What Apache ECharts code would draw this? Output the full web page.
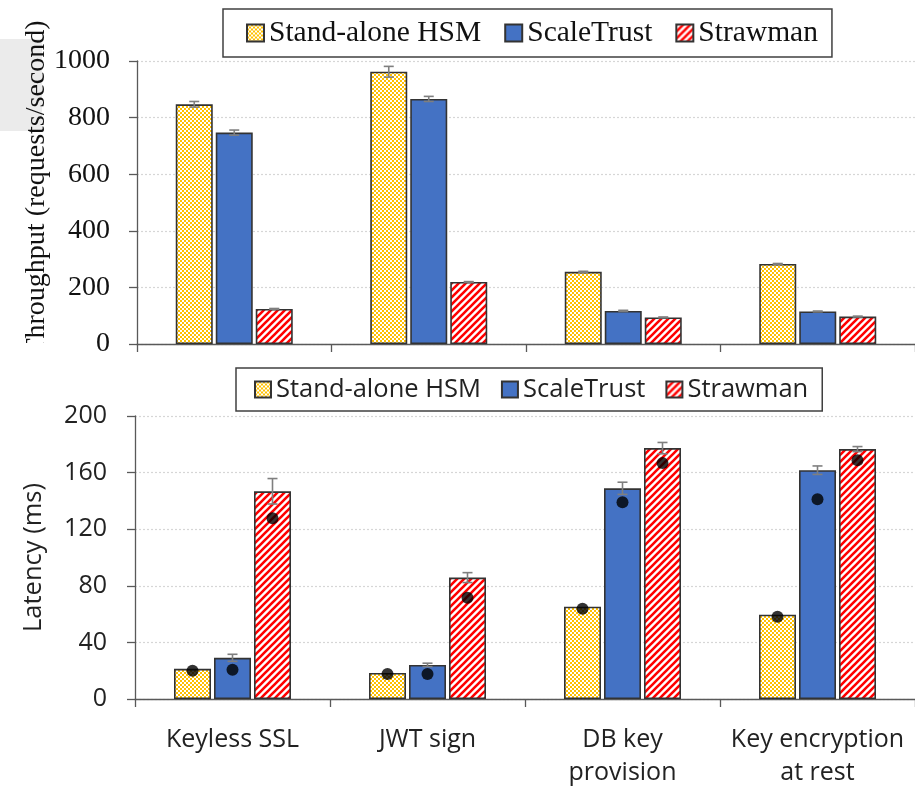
<!DOCTYPE html>
<html>
<head>
<meta charset="utf-8">
<script src="https://cdn.jsdelivr.net/npm/echarts@6/dist/echarts.min.js"></script>
<style>
  html, body { margin: 0; padding: 0; background: #fff; }
  #chart { width: 915px; height: 789px; }
</style>
</head>
<body>
<div id="chart"></div>
<script>
// Workloads on the x axis (shared by both panels)
const categories = ['Keyless SSL', 'JWT sign', 'DB key\nprovision', 'Key encryption\nat rest'];
const seriesNames = ['Stand-alone HSM', 'ScaleTrust', 'Strawman'];

// Throughput (requests/second) and error half-widths
const throughputHSM = [847, 962, 255, 283];
const throughputScaleTrust = [747, 866, 117, 115];
const throughputStrawman = [124, 219, 94, 97];
const throughputErrHSM = [10, 19, 2, 1.5];
const throughputErrScaleTrust = [9, 9, 2, 1.5];
const throughputErrStrawman = [1.5, 1.5, 1.5, 1.5];

// Latency (ms): bar = mean, error half-width, dot = median
const latencyHSM = [21.3, 18.4, 65.2, 59.6];
const latencyScaleTrust = [29.1, 24.1, 148.9, 161.7];
const latencyStrawman = [146.8, 85.8, 177.3, 176.6];
const latencyErrHSM = [0, 0, 0, 0];
const latencyErrScaleTrust = [2.5, 1.2, 4.3, 3];
const latencyErrStrawman = [9, 3.5, 4, 1.8];
const latencyMedianHSM = [19.9, 17.7, 63.8, 58.2];
const latencyMedianScaleTrust = [20.6, 17.7, 139, 141.1];
const latencyMedianStrawman = [127.7, 71.6, 166.7, 168.8];

// Axis ranges
const throughputTicks = [0, 200, 400, 600, 800, 1000];
const latencyTicks = [0, 40, 80, 120, 160, 200];

const BAR_W = 37;
const BAR_GAP = 3;
const AXIS_COLOR = '#595959';
const SERIF = '"Liberation Serif", "Times New Roman", serif';
const SANS = '"Open Sans", "Noto Sans", sans-serif';

// Light yellow lattice fill
function yellowLattice() {
  const c = document.createElement('canvas');
  c.width = 4; c.height = 4;
  const g = c.getContext('2d');
  g.fillStyle = '#ffffff';
  g.fillRect(0, 0, 4, 4);
  g.fillStyle = '#ffc000';
  g.fillRect(0, 0, 2, 2);
  g.fillRect(2, 2, 2, 2);
  return c;
}
// Red "/" diagonal stripes on white
function redStripes() {
  const s = 7;
  const c = document.createElement('canvas');
  c.width = s; c.height = s;
  const g = c.getContext('2d');
  g.fillStyle = '#ffffff';
  g.fillRect(0, 0, s, s);
  g.strokeStyle = '#ff0000';
  g.lineWidth = 2.6;
  g.beginPath();
  g.moveTo(-1, s + 1); g.lineTo(s + 1, -1);
  g.moveTo(-s - 1, 1); g.lineTo(1, -s - 1);
  g.moveTo(-1, 2 * s + 1); g.lineTo(2 * s + 1, -1);
  g.moveTo(-s - 1, s + 1); g.lineTo(s + 1, -s - 1);
  g.stroke();
  return c;
}

const fills = [
  { image: yellowLattice(), repeat: 'repeat' },
  '#4472c4',
  { image: redStripes(), repeat: 'repeat' }
];

const throughputData = [throughputHSM, throughputScaleTrust, throughputStrawman];
const throughputErr = [throughputErrHSM, throughputErrScaleTrust, throughputErrStrawman];
const latencyData = [latencyHSM, latencyScaleTrust, latencyStrawman];
const latencyErr = [latencyErrHSM, latencyErrScaleTrust, latencyErrStrawman];
const latencyMedian = [latencyMedianHSM, latencyMedianScaleTrust, latencyMedianStrawman];

function barOffset(k) { return (k - 1) * (BAR_W + BAR_GAP); }

function errorSeries(values, errs, k, axisIdx) {
  return {
    type: 'custom',
    name: 'err-' + axisIdx + '-' + k,
    xAxisIndex: axisIdx,
    yAxisIndex: axisIdx,
    z: 5,
    silent: true,
    data: values.map((v, i) => [i, v, errs[i]]),
    renderItem: function (params, api) {
      const i = api.value(0), v = api.value(1), e = api.value(2);
      if (!e) return null;
      const off = barOffset(k);
      const hi = api.coord([i, v + e]);
      const lo = api.coord([i, v - e]);
      const x = hi[0] + off;
      const cap = 5;
      const style = { stroke: '#7f7f7f', lineWidth: 1.6 };
      return {
        type: 'group',
        children: [
          { type: 'line', shape: { x1: x, y1: hi[1], x2: x, y2: lo[1] }, style },
          { type: 'line', shape: { x1: x - cap, y1: hi[1], x2: x + cap, y2: hi[1] }, style },
          { type: 'line', shape: { x1: x - cap, y1: lo[1], x2: x + cap, y2: lo[1] }, style }
        ]
      };
    }
  };
}

const series = [];
[0, 1].forEach(function (axisIdx) {
  const data = axisIdx === 0 ? throughputData : latencyData;
  seriesNames.forEach(function (name, k) {
    series.push({
      type: 'bar',
      name: name,
      xAxisIndex: axisIdx,
      yAxisIndex: axisIdx,
      barWidth: BAR_W,
      barGap: (BAR_GAP / BAR_W * 100) + '%',
      data: data[k],
      itemStyle: { color: fills[k], borderColor: '#333333', borderWidth: 1.6 },
      emphasis: { disabled: true }
    });
  });
});
seriesNames.forEach(function (name, k) {
  series.push(errorSeries(throughputData[k], throughputErr[k], k, 0));
  series.push(errorSeries(latencyData[k], latencyErr[k], k, 1));
  series.push({
    type: 'scatter',
    name: 'median-' + k,
    xAxisIndex: 1,
    yAxisIndex: 1,
    z: 6,
    symbol: 'circle',
    symbolSize: 12,
    symbolOffset: [barOffset(k), 0],
    itemStyle: { color: '#000000' },
    data: latencyMedian[k].map((v, i) => [i, v]),
    silent: true
  });
});

const gridLine = { show: true, lineStyle: { color: '#d6d6d6', type: [2, 2], width: 1.2 } };

function valueAxis(gridIndex, ticks, labelFont) {
  return {
    type: 'value',
    gridIndex: gridIndex,
    min: ticks[0],
    max: ticks[ticks.length - 1],
    interval: ticks[1] - ticks[0],
    axisLine: { show: true, lineStyle: { color: AXIS_COLOR, width: 1.3 } },
    axisTick: { show: true, length: 8, lineStyle: { color: AXIS_COLOR, width: 1.3 } },
    axisLabel: Object.assign({ formatter: function (v) { return String(v); } }, labelFont),
    splitLine: gridLine
  };
}

const chart = echarts.init(document.getElementById('chart'), null, { renderer: 'canvas' });
chart.setOption({
  animation: false,
  backgroundColor: '#ffffff',
  grid: [
    { left: 137, top: 61, width: 780, height: 283 },
    { left: 135, top: 416, width: 782, height: 283 }
  ],
  legend: [
    {
      data: seriesNames,
      left: 223, top: 9,
      icon: 'rect',
      itemWidth: 17, itemHeight: 17, itemGap: 23,
      padding: [9, 14, 9, 23],
      borderColor: '#404040', borderWidth: 1.5,
      textStyle: { fontFamily: SERIF, fontSize: 29.5, color: '#111', lineHeight: 30 },
      selectedMode: false
    },
    {
      data: seriesNames,
      left: 236, top: 368,
      icon: 'rect',
      itemWidth: 16, itemHeight: 16, itemGap: 20,
      padding: [8, 14, 8, 18],
      borderColor: '#404040', borderWidth: 1.5,
      textStyle: { fontFamily: SANS, fontSize: 25.5, color: '#222', lineHeight: 27 },
      selectedMode: false
    }
  ],
  xAxis: [
    {
      type: 'category', gridIndex: 0, data: categories,
      axisLine: { lineStyle: { color: AXIS_COLOR, width: 1.3 } },
      axisTick: { show: true, length: 8, interval: 0, lineStyle: { color: AXIS_COLOR, width: 1.3 } },
      axisLabel: { show: false }
    },
    {
      type: 'category', gridIndex: 1, data: categories,
      axisLine: { lineStyle: { color: AXIS_COLOR, width: 1.3 } },
      axisTick: { show: true, length: 8, interval: 0, lineStyle: { color: AXIS_COLOR, width: 1.3 } },
      axisLabel: { interval: 0, fontFamily: SANS, fontSize: 25, lineHeight: 33, color: '#222', margin: 24 }
    }
  ],
  yAxis: [
    valueAxis(0, throughputTicks, { fontFamily: SERIF, fontSize: 28, color: '#111', margin: 27 }),
    Object.assign(valueAxis(1, latencyTicks, { fontFamily: SANS, fontSize: 25, color: '#222', margin: 28 }), {
      name: 'Latency (ms)',
      nameLocation: 'middle',
      nameRotate: 90,
      nameGap: 88,
      nameTextStyle: { fontFamily: SANS, fontSize: 25.5, color: '#222' }
    })
  ],
  graphic: [
    { type: 'rect', z: -10, shape: { x: 0, y: 39, width: 42, height: 92 }, style: { fill: '#ebebeb' } },
    {
      type: 'text', z: 10, x: 37, y: 188, rotation: Math.PI / 2,
      style: {
        text: 'Throughput (requests/second)',
        font: '28px ' + SERIF,
        fill: '#111',
        textAlign: 'center',
        textVerticalAlign: 'middle'
      }
    },
    { type: 'rect', z: 20, shape: { x: 0, y: 343, width: 70, height: 22 }, style: { fill: '#ffffff' } }
  ],
  series: series
});
</script>
</body>
</html>
